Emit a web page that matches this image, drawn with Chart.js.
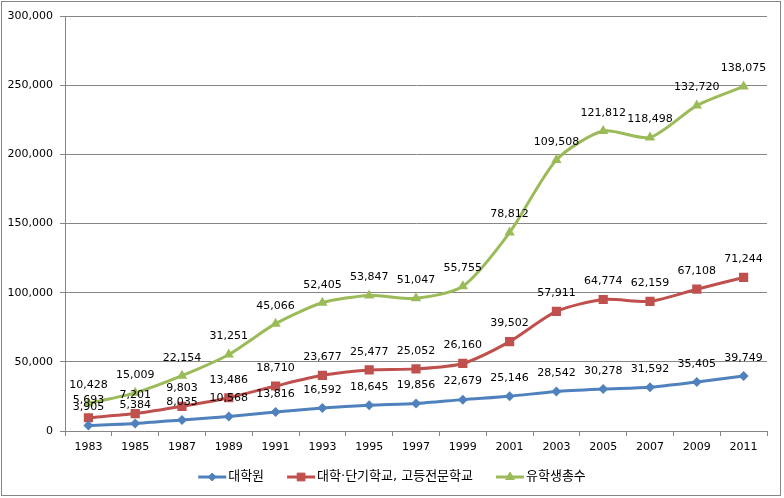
<!DOCTYPE html>
<html>
<head>
<meta charset="utf-8">
<script src="https://cdn.jsdelivr.net/npm/chart.js@4"></script>
<style>
  html, body { margin: 0; padding: 0; background: #fff; }
  #wrap { width: 784px; height: 498px; position: relative; }
</style>
</head>
<body>
<div id="wrap"><canvas id="chart" width="784" height="498"></canvas></div>
<script>
// 데이터 (누적 꺾은선)
const years = ['1983', '1985', '1987', '1989', '1991', '1993', '1995', '1997', '1999', '2001', '2003', '2005', '2007', '2009', '2011'];
const gradSchool = [3905, 5384, 8035, 10568, 13816, 16592, 18645, 19856, 22679, 25146, 28542, 30278, 31592, 35405, 39749];
const univCollege = [5693, 7201, 9803, 13486, 18710, 23677, 25477, 25052, 26160, 39502, 57911, 64774, 62159, 67108, 71244];
const totalStudents = [10428, 15009, 22154, 31251, 45066, 52405, 53847, 51047, 55755, 78812, 109508, 121812, 118498, 132720, 138075];
const seriesNames = ['대학원', '대학·단기학교, 고등전문학교', '유학생총수'];
const yTicks = [0, 50000, 100000, 150000, 200000, 250000, 300000];

const FONT = '"DejaVu Sans", "Noto Sans CJK KR", sans-serif';
const GRID = '#868686';
const fmt = v => v.toLocaleString('en-US');

// 값 라벨 (원래 값 표시)
const valueLabels = {
    id: 'valueLabels',
    afterDatasetsDraw(chart) {
        const ctx = chart.ctx;
        ctx.save();
        ctx.font = '11px ' + FONT;
        ctx.fillStyle = '#000';
        ctx.textAlign = 'center';
        ctx.textBaseline = 'middle';
        chart.data.datasets.forEach((ds, i) => {
            chart.getDatasetMeta(i).data.forEach((pt, j) => {
                ctx.fillText(fmt(ds.data[j]), pt.x, pt.y - 18);
            });
        });
        ctx.restore();
    }
};

// 엑셀 스타일 범례 + 바깥 테두리
const excelLegend = {
    id: 'excelLegend',
    afterDraw(chart) {
        const ctx = chart.ctx;
        ctx.save();
        ctx.font = '13px ' + FONT;
        const lineW = 28, gap = 2, spacing = 23;
        const items = chart.data.datasets.map(ds => ({ ds, w: ctx.measureText(ds.label).width }));
        const total = items.reduce((s, it) => s + lineW + gap + it.w, 0) + spacing * (items.length - 1);
        let x = chart.width / 2 - total / 2;
        const y = 477;
        items.forEach(it => {
            const ds = it.ds;
            ctx.strokeStyle = ds.borderColor;
            ctx.lineWidth = 3;
            ctx.beginPath();
            ctx.moveTo(x, y);
            ctx.lineTo(x + lineW, y);
            ctx.stroke();
            ctx.fillStyle = ds.borderColor;
            ctx.lineWidth = 1;
            Chart.helpers.drawPoint(ctx, { pointStyle: ds.pointStyle, radius: ds.pointRadius - 1, borderWidth: 1 }, x + lineW / 2, y);
            ctx.fillStyle = '#000';
            ctx.textAlign = 'left';
            ctx.textBaseline = 'middle';
            ctx.fillText(ds.label, x + lineW + gap, y);
            x += lineW + gap + it.w + spacing;
        });
        ctx.strokeStyle = GRID;
        ctx.lineWidth = 1;
        ctx.strokeRect(1.5, 1.5, 779, 494);
        ctx.restore();
    }
};

function makeSet(label, data, color, style, radius) {
    return {
        label, data,
        borderColor: color,
        backgroundColor: color,
        pointBackgroundColor: color,
        pointBorderColor: color,
        pointBorderWidth: 0,
        pointStyle: style,
        pointRadius: radius,
        pointHoverRadius: radius,
        borderWidth: 3,
        tension: 0.25,
        fill: false
    };
}

new Chart(document.getElementById('chart'), {
    type: 'line',
    data: {
        labels: years,
        datasets: [
            makeSet(seriesNames[0], gradSchool, '#4F81BD', 'rectRot', 5),
            makeSet(seriesNames[1], univCollege, '#C0504D', 'rect', 6.5),
            makeSet(seriesNames[2], totalStudents, '#9BBB59', 'triangle', 6)
        ]
    },
    options: {
        responsive: false,
        animation: false,
        layout: { padding: { left: 0, right: 17, top: 16, bottom: 37 } },
        plugins: {
            legend: { display: false },
            tooltip: { enabled: false }
        },
        scales: {
            x: {
                offset: true,
                grid: { offset: true, drawOnChartArea: false, drawTicks: true, tickLength: 5, color: GRID },
                border: { color: GRID, width: 1 },
                ticks: { font: { family: FONT, size: 11 }, color: '#000', padding: 5, maxRotation: 0 },
                afterFit(scale) { scale.height = 30; }
            },
            y: {
                stacked: true,
                min: 0,
                max: 300000,
                afterBuildTicks(scale) { scale.ticks = yTicks.map(v => ({ value: v })); },
                grid: { color: GRID, tickLength: 5, drawTicks: true },
                border: { color: GRID, width: 1 },
                ticks: {
                    font: { family: FONT, size: 11 },
                    color: '#000',
                    padding: 7,
                    callback: v => fmt(v)
                },
                afterFit(scale) { scale.width = 65; }
            }
        }
    },
    plugins: [valueLabels, excelLegend]
});
</script>
</body>
</html>
